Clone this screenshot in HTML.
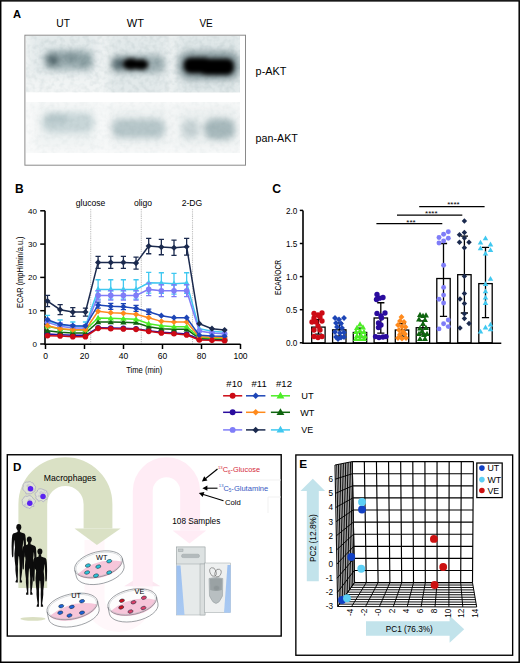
<!DOCTYPE html>
<html><head><meta charset="utf-8"><style>
html,body{margin:0;padding:0;background:#fff;}
svg{display:block;font-family:"Liberation Sans", sans-serif;}
</style></head><body>
<svg width="520" height="663" viewBox="0 0 520 663">
<rect width="520" height="663" fill="#fff"/>
<rect x="0.7" y="0.85" width="518.5" height="661.4" fill="none" stroke="#000" stroke-width="1.5"/>
<text x="12.9" y="17.7" font-size="11.2" font-weight="bold">A</text>
<g font-size="10" text-anchor="middle"><text x="63.1" y="26.9" textLength="13.6" lengthAdjust="spacingAndGlyphs">UT</text><text x="135.4" y="26.9" textLength="17.2" lengthAdjust="spacingAndGlyphs">WT</text><text x="206.1" y="26.9" textLength="13.4" lengthAdjust="spacingAndGlyphs">VE</text></g>
<rect x="24.9" y="35.2" width="220.6" height="130" fill="#fff" stroke="#8a8a8a" stroke-width="1"/>
<defs><filter id="b1" x="-50%" y="-50%" width="200%" height="200%"><feGaussianBlur stdDeviation="3"/></filter><filter id="b2" x="-50%" y="-50%" width="200%" height="200%"><feGaussianBlur stdDeviation="1.6"/></filter><filter id="b3" x="-50%" y="-50%" width="200%" height="200%"><feGaussianBlur stdDeviation="5"/></filter><filter id="b4" x="-50%" y="-50%" width="200%" height="200%"><feGaussianBlur stdDeviation="2"/></filter><filter id="nz" x="0" y="0" width="100%" height="100%"><feTurbulence type="fractalNoise" baseFrequency="0.2" numOctaves="2" seed="5"/><feColorMatrix type="matrix" values="0 0 0 0 0.30  0 0 0 0 0.40  0 0 0 0 0.42  0.9 0 0 0 -0.36"/></filter><clipPath id="c1"><rect x="26" y="36" width="214" height="56.5"/></clipPath><clipPath id="c2"><rect x="26" y="102" width="214" height="51"/></clipPath></defs>
<g clip-path="url(#c1)"><rect x="26" y="36" width="214" height="56.5" fill="#f1f4f4"/><g filter="url(#b3)"><rect x="30" y="32" width="68" height="44" fill="#e3eaeb"/><rect x="108" y="32" width="60" height="66" fill="#e2e9ea"/><rect x="176" y="32" width="66" height="66" fill="#dfe7e8"/></g><g filter="url(#b1)"><rect x="44" y="50" width="49" height="20" rx="8" fill="#a2b4b7"/><ellipse cx="53" cy="60" rx="7" ry="6" fill="#50656a"/><ellipse cx="71" cy="57.5" rx="8" ry="5" fill="#7b9094"/><ellipse cx="85" cy="62" rx="6" ry="6" fill="#869b9f"/><rect x="111" y="55" width="54" height="18" rx="7" fill="#9eafb2"/><ellipse cx="119" cy="64" rx="7" ry="6" fill="#50646a"/><rect x="178" y="51" width="62" height="29" rx="12" fill="#8c9ea2"/></g><g filter="url(#b4)"><ellipse cx="131" cy="64" rx="8.5" ry="6" fill="#000"/><ellipse cx="141" cy="64.5" rx="7.5" ry="5.6" fill="#000"/></g><g filter="url(#b4)"><rect x="183.5" y="57.5" width="28" height="16" rx="7" fill="#000"/><rect x="199" y="58.5" width="35" height="16.5" rx="7" fill="#000"/></g><rect x="26" y="36" width="214" height="56.5" filter="url(#nz)" opacity="0.4" style="mix-blend-mode:multiply"/></g>
<g clip-path="url(#c2)"><rect x="26" y="102" width="214" height="51" fill="#f9fafa"/><g filter="url(#b3)"><rect x="36" y="104" width="62" height="44" fill="#eff3f3"/><rect x="108" y="106" width="62" height="42" fill="#eef2f2"/><rect x="176" y="106" width="64" height="42" fill="#edf1f1"/></g><g filter="url(#b1)"><rect x="42" y="113" width="52" height="20" rx="9" fill="#c8d6d8"/><rect x="45" y="114" width="22" height="9" rx="4" fill="#b2c4c7"/><rect x="112" y="119" width="53" height="19" rx="8" fill="#b6c6c9"/><rect x="182" y="119.5" width="17" height="19" rx="7" fill="#c6d2d4"/><rect x="204" y="118.5" width="31" height="21" rx="9" fill="#a6b8bb"/></g><rect x="26" y="102" width="214" height="51" filter="url(#nz)" opacity="0.2" style="mix-blend-mode:multiply"/></g>
<g font-size="10.2"><text x="255.6" y="75" textLength="30.8" lengthAdjust="spacingAndGlyphs">p-AKT</text><text x="255.6" y="141.6" textLength="42.2" lengthAdjust="spacingAndGlyphs">pan-AKT</text></g>
<text x="15.1" y="192.7" font-size="12" font-weight="bold">B</text>
<line x1="90.7" y1="209" x2="90.7" y2="344" stroke="#c4c4c4" stroke-width="1.1" stroke-dasharray="1.3,0.9"/>
<line x1="141.3" y1="209" x2="141.3" y2="344" stroke="#c4c4c4" stroke-width="1.1" stroke-dasharray="1.3,0.9"/>
<line x1="192.5" y1="209" x2="192.5" y2="344" stroke="#c4c4c4" stroke-width="1.1" stroke-dasharray="1.3,0.9"/>
<g font-size="8.6" text-anchor="middle"><text x="90.5" y="206">glucose</text><text x="143" y="205.5">oligo</text><text x="192" y="205.5">2-DG</text></g>
<path d="M45,210.8 V344.3 H240.5" fill="none" stroke="#000" stroke-width="1.6"/>
<line x1="40.2" y1="344.0" x2="45" y2="344.0" stroke="#000" stroke-width="1.5"/>
<text x="37" y="346.9" font-size="8" text-anchor="end">0</text>
<line x1="40.2" y1="310.7" x2="45" y2="310.7" stroke="#000" stroke-width="1.5"/>
<text x="37" y="313.6" font-size="8" text-anchor="end">10</text>
<line x1="40.2" y1="277.4" x2="45" y2="277.4" stroke="#000" stroke-width="1.5"/>
<text x="37" y="280.3" font-size="8" text-anchor="end">20</text>
<line x1="40.2" y1="244.1" x2="45" y2="244.1" stroke="#000" stroke-width="1.5"/>
<text x="37" y="247.0" font-size="8" text-anchor="end">30</text>
<line x1="40.2" y1="210.8" x2="45" y2="210.8" stroke="#000" stroke-width="1.5"/>
<text x="37" y="213.7" font-size="8" text-anchor="end">40</text>
<line x1="45.5" y1="344" x2="45.5" y2="349" stroke="#000" stroke-width="1.5"/>
<text x="45.5" y="358.5" font-size="8.5" text-anchor="middle">0</text>
<line x1="84.5" y1="344" x2="84.5" y2="349" stroke="#000" stroke-width="1.5"/>
<text x="84.5" y="358.5" font-size="8.5" text-anchor="middle">20</text>
<line x1="123.5" y1="344" x2="123.5" y2="349" stroke="#000" stroke-width="1.5"/>
<text x="123.5" y="358.5" font-size="8.5" text-anchor="middle">40</text>
<line x1="162.5" y1="344" x2="162.5" y2="349" stroke="#000" stroke-width="1.5"/>
<text x="162.5" y="358.5" font-size="8.5" text-anchor="middle">60</text>
<line x1="201.5" y1="344" x2="201.5" y2="349" stroke="#000" stroke-width="1.5"/>
<text x="201.5" y="358.5" font-size="8.5" text-anchor="middle">80</text>
<line x1="240.5" y1="344" x2="240.5" y2="349" stroke="#000" stroke-width="1.5"/>
<text x="240.5" y="358.5" font-size="8.5" text-anchor="middle">100</text>
<text x="126.2" y="372.6" font-size="9.6" textLength="36" lengthAdjust="spacingAndGlyphs">Time (min)</text>
<text transform="translate(22.6,272.2) rotate(-90)" font-size="8.9" text-anchor="middle" textLength="71.5" lengthAdjust="spacingAndGlyphs">ECAR (mpH/min/a.u.)</text>
<g><polyline points="47.50,320.69 60.15,324.69 72.80,326.35 85.45,326.35 98.10,289.39 110.75,289.39 123.40,289.39 136.05,289.39 148.70,282.73 161.35,283.06 174.00,283.73 186.65,283.06 199.30,328.68 211.95,331.35 224.60,332.35" fill="none" stroke="#40c8f0" stroke-width="1.5"/><path d="M47.50,315.36V326.02M44.90,315.36h5.2M44.90,326.02h5.2" stroke="#40c8f0" stroke-width="1.3" fill="none"/><path d="M60.15,320.02V329.35M57.55,320.02h5.2M57.55,329.35h5.2" stroke="#40c8f0" stroke-width="1.3" fill="none"/><path d="M72.80,322.02V330.68M70.20,322.02h5.2M70.20,330.68h5.2" stroke="#40c8f0" stroke-width="1.3" fill="none"/><path d="M85.45,322.02V330.68M82.85,322.02h5.2M82.85,330.68h5.2" stroke="#40c8f0" stroke-width="1.3" fill="none"/><path d="M98.10,279.73V299.05M95.50,279.73h5.2M95.50,299.05h5.2" stroke="#40c8f0" stroke-width="1.3" fill="none"/><path d="M110.75,279.73V299.05M108.15,279.73h5.2M108.15,299.05h5.2" stroke="#40c8f0" stroke-width="1.3" fill="none"/><path d="M123.40,279.73V299.05M120.80,279.73h5.2M120.80,299.05h5.2" stroke="#40c8f0" stroke-width="1.3" fill="none"/><path d="M136.05,279.73V299.05M133.45,279.73h5.2M133.45,299.05h5.2" stroke="#40c8f0" stroke-width="1.3" fill="none"/><path d="M148.70,272.40V293.05M146.10,272.40h5.2M146.10,293.05h5.2" stroke="#40c8f0" stroke-width="1.3" fill="none"/><path d="M161.35,272.74V293.38M158.75,272.74h5.2M158.75,293.38h5.2" stroke="#40c8f0" stroke-width="1.3" fill="none"/><path d="M174.00,273.40V294.05M171.40,273.40h5.2M171.40,294.05h5.2" stroke="#40c8f0" stroke-width="1.3" fill="none"/><path d="M186.65,272.74V293.38M184.05,272.74h5.2M184.05,293.38h5.2" stroke="#40c8f0" stroke-width="1.3" fill="none"/><path d="M47.50,317.39L50.63,322.83L44.37,322.83Z" fill="#40c8f0"/><path d="M60.15,321.39L63.28,326.83L57.02,326.83Z" fill="#40c8f0"/><path d="M72.80,323.05L75.94,328.50L69.66,328.50Z" fill="#40c8f0"/><path d="M85.45,323.05L88.59,328.50L82.31,328.50Z" fill="#40c8f0"/><path d="M98.10,286.09L101.23,291.53L94.96,291.53Z" fill="#40c8f0"/><path d="M110.75,286.09L113.89,291.53L107.61,291.53Z" fill="#40c8f0"/><path d="M123.40,286.09L126.54,291.53L120.27,291.53Z" fill="#40c8f0"/><path d="M136.05,286.09L139.19,291.53L132.92,291.53Z" fill="#40c8f0"/><path d="M148.70,279.43L151.83,284.87L145.56,284.87Z" fill="#40c8f0"/><path d="M161.35,279.76L164.49,285.21L158.22,285.21Z" fill="#40c8f0"/><path d="M174.00,280.43L177.13,285.87L170.87,285.87Z" fill="#40c8f0"/><path d="M186.65,279.76L189.78,285.21L183.52,285.21Z" fill="#40c8f0"/><path d="M199.30,325.38L202.44,330.83L196.17,330.83Z" fill="#40c8f0"/><path d="M211.95,328.05L215.09,333.49L208.82,333.49Z" fill="#40c8f0"/><path d="M224.60,329.05L227.73,334.49L221.47,334.49Z" fill="#40c8f0"/></g>
<g><polyline points="47.50,322.36 60.15,326.35 72.80,328.02 85.45,328.02 98.10,295.38 110.75,295.38 123.40,295.38 136.05,295.38 148.70,289.39 161.35,290.72 174.00,290.72 186.65,290.72 199.30,331.01 211.95,333.01 224.60,333.68" fill="none" stroke="#7f7df8" stroke-width="1.5"/><path d="M47.50,319.02V325.69M44.90,319.02h5.2M44.90,325.69h5.2" stroke="#7f7df8" stroke-width="1.3" fill="none"/><path d="M60.15,323.02V329.68M57.55,323.02h5.2M57.55,329.68h5.2" stroke="#7f7df8" stroke-width="1.3" fill="none"/><path d="M72.80,324.69V331.35M70.20,324.69h5.2M70.20,331.35h5.2" stroke="#7f7df8" stroke-width="1.3" fill="none"/><path d="M85.45,324.69V331.35M82.85,324.69h5.2M82.85,331.35h5.2" stroke="#7f7df8" stroke-width="1.3" fill="none"/><path d="M98.10,290.72V300.04M95.50,290.72h5.2M95.50,300.04h5.2" stroke="#7f7df8" stroke-width="1.3" fill="none"/><path d="M110.75,290.72V300.04M108.15,290.72h5.2M108.15,300.04h5.2" stroke="#7f7df8" stroke-width="1.3" fill="none"/><path d="M123.40,290.72V300.04M120.80,290.72h5.2M120.80,300.04h5.2" stroke="#7f7df8" stroke-width="1.3" fill="none"/><path d="M136.05,290.72V300.04M133.45,290.72h5.2M133.45,300.04h5.2" stroke="#7f7df8" stroke-width="1.3" fill="none"/><path d="M148.70,283.06V295.72M146.10,283.06h5.2M146.10,295.72h5.2" stroke="#7f7df8" stroke-width="1.3" fill="none"/><path d="M161.35,284.73V296.71M158.75,284.73h5.2M158.75,296.71h5.2" stroke="#7f7df8" stroke-width="1.3" fill="none"/><path d="M174.00,284.73V296.71M171.40,284.73h5.2M171.40,296.71h5.2" stroke="#7f7df8" stroke-width="1.3" fill="none"/><path d="M186.65,284.73V296.71M184.05,284.73h5.2M184.05,296.71h5.2" stroke="#7f7df8" stroke-width="1.3" fill="none"/><circle cx="47.50" cy="322.36" r="2.80" fill="#7f7df8"/><circle cx="60.15" cy="326.35" r="2.80" fill="#7f7df8"/><circle cx="72.80" cy="328.02" r="2.80" fill="#7f7df8"/><circle cx="85.45" cy="328.02" r="2.80" fill="#7f7df8"/><circle cx="98.10" cy="295.38" r="2.80" fill="#7f7df8"/><circle cx="110.75" cy="295.38" r="2.80" fill="#7f7df8"/><circle cx="123.40" cy="295.38" r="2.80" fill="#7f7df8"/><circle cx="136.05" cy="295.38" r="2.80" fill="#7f7df8"/><circle cx="148.70" cy="289.39" r="2.80" fill="#7f7df8"/><circle cx="161.35" cy="290.72" r="2.80" fill="#7f7df8"/><circle cx="174.00" cy="290.72" r="2.80" fill="#7f7df8"/><circle cx="186.65" cy="290.72" r="2.80" fill="#7f7df8"/><circle cx="199.30" cy="331.01" r="2.80" fill="#7f7df8"/><circle cx="211.95" cy="333.01" r="2.80" fill="#7f7df8"/><circle cx="224.60" cy="333.68" r="2.80" fill="#7f7df8"/></g>
<g><polyline points="47.50,334.01 60.15,334.68 72.80,335.34 85.45,335.34 98.10,327.68 110.75,328.02 123.40,328.35 136.05,328.68 148.70,330.68 161.35,332.35 174.00,333.01 186.65,334.01 199.30,339.00 211.95,339.34 224.60,339.67" fill="none" stroke="#2a0c9e" stroke-width="1.5"/><circle cx="47.50" cy="334.01" r="2.80" fill="#2a0c9e"/><circle cx="60.15" cy="334.68" r="2.80" fill="#2a0c9e"/><circle cx="72.80" cy="335.34" r="2.80" fill="#2a0c9e"/><circle cx="85.45" cy="335.34" r="2.80" fill="#2a0c9e"/><circle cx="98.10" cy="327.68" r="2.80" fill="#2a0c9e"/><circle cx="110.75" cy="328.02" r="2.80" fill="#2a0c9e"/><circle cx="123.40" cy="328.35" r="2.80" fill="#2a0c9e"/><circle cx="136.05" cy="328.68" r="2.80" fill="#2a0c9e"/><circle cx="148.70" cy="330.68" r="2.80" fill="#2a0c9e"/><circle cx="161.35" cy="332.35" r="2.80" fill="#2a0c9e"/><circle cx="174.00" cy="333.01" r="2.80" fill="#2a0c9e"/><circle cx="186.65" cy="334.01" r="2.80" fill="#2a0c9e"/><circle cx="199.30" cy="339.00" r="2.80" fill="#2a0c9e"/><circle cx="211.95" cy="339.34" r="2.80" fill="#2a0c9e"/><circle cx="224.60" cy="339.67" r="2.80" fill="#2a0c9e"/></g>
<g><polyline points="47.50,330.68 60.15,332.35 72.80,333.01 85.45,333.01 98.10,322.02 110.75,322.02 123.40,322.36 136.05,322.69 148.70,326.68 161.35,328.68 174.00,329.35 186.65,329.35 199.30,338.34 211.95,338.67 224.60,339.00" fill="none" stroke="#0f650f" stroke-width="1.5"/><path d="M47.50,327.38L50.63,332.82L44.37,332.82Z" fill="#0f650f"/><path d="M60.15,329.05L63.28,334.49L57.02,334.49Z" fill="#0f650f"/><path d="M72.80,329.71L75.94,335.16L69.66,335.16Z" fill="#0f650f"/><path d="M85.45,329.71L88.59,335.16L82.31,335.16Z" fill="#0f650f"/><path d="M98.10,318.72L101.23,324.17L94.96,324.17Z" fill="#0f650f"/><path d="M110.75,318.72L113.89,324.17L107.61,324.17Z" fill="#0f650f"/><path d="M123.40,319.06L126.54,324.50L120.27,324.50Z" fill="#0f650f"/><path d="M136.05,319.39L139.19,324.83L132.92,324.83Z" fill="#0f650f"/><path d="M148.70,323.38L151.83,328.83L145.56,328.83Z" fill="#0f650f"/><path d="M161.35,325.38L164.49,330.83L158.22,330.83Z" fill="#0f650f"/><path d="M174.00,326.05L177.13,331.49L170.87,331.49Z" fill="#0f650f"/><path d="M186.65,326.05L189.78,331.49L183.52,331.49Z" fill="#0f650f"/><path d="M199.30,335.04L202.44,340.48L196.17,340.48Z" fill="#0f650f"/><path d="M211.95,335.37L215.09,340.82L208.82,340.82Z" fill="#0f650f"/><path d="M224.60,335.70L227.73,341.15L221.47,341.15Z" fill="#0f650f"/></g>
<g><polyline points="47.50,326.35 60.15,329.01 72.80,330.01 85.45,330.01 98.10,318.03 110.75,318.36 123.40,318.69 136.05,319.36 148.70,323.69 161.35,325.69 174.00,326.68 186.65,326.68 199.30,337.34 211.95,338.01 224.60,338.34" fill="none" stroke="#4ced26" stroke-width="1.5"/><path d="M47.50,323.05L50.63,328.50L44.37,328.50Z" fill="#4ced26"/><path d="M60.15,325.71L63.28,331.16L57.02,331.16Z" fill="#4ced26"/><path d="M72.80,326.71L75.94,332.16L69.66,332.16Z" fill="#4ced26"/><path d="M85.45,326.71L88.59,332.16L82.31,332.16Z" fill="#4ced26"/><path d="M98.10,314.73L101.23,320.17L94.96,320.17Z" fill="#4ced26"/><path d="M110.75,315.06L113.89,320.50L107.61,320.50Z" fill="#4ced26"/><path d="M123.40,315.39L126.54,320.84L120.27,320.84Z" fill="#4ced26"/><path d="M136.05,316.06L139.19,321.50L132.92,321.50Z" fill="#4ced26"/><path d="M148.70,320.39L151.83,325.83L145.56,325.83Z" fill="#4ced26"/><path d="M161.35,322.38L164.49,327.83L158.22,327.83Z" fill="#4ced26"/><path d="M174.00,323.38L177.13,328.83L170.87,328.83Z" fill="#4ced26"/><path d="M186.65,323.38L189.78,328.83L183.52,328.83Z" fill="#4ced26"/><path d="M199.30,334.04L202.44,339.48L196.17,339.48Z" fill="#4ced26"/><path d="M211.95,334.71L215.09,340.15L208.82,340.15Z" fill="#4ced26"/><path d="M224.60,335.04L227.73,340.48L221.47,340.48Z" fill="#4ced26"/></g>
<g><polyline points="47.50,325.69 60.15,328.68 72.80,329.68 85.45,329.68 98.10,311.37 110.75,312.70 123.40,313.36 136.05,314.36 148.70,317.69 161.35,321.36 174.00,322.02 186.65,322.02 199.30,336.67 211.95,337.34 224.60,337.67" fill="none" stroke="#ff8a1c" stroke-width="1.5"/><path d="M47.50,322.58L50.60,325.69L47.50,328.79L44.40,325.69Z" fill="#ff8a1c"/><path d="M60.15,325.58L63.25,328.68L60.15,331.78L57.05,328.68Z" fill="#ff8a1c"/><path d="M72.80,326.58L75.90,329.68L72.80,332.78L69.70,329.68Z" fill="#ff8a1c"/><path d="M85.45,326.58L88.55,329.68L85.45,332.78L82.35,329.68Z" fill="#ff8a1c"/><path d="M98.10,308.27L101.20,311.37L98.10,314.47L95.00,311.37Z" fill="#ff8a1c"/><path d="M110.75,309.60L113.85,312.70L110.75,315.80L107.65,312.70Z" fill="#ff8a1c"/><path d="M123.40,310.26L126.50,313.36L123.40,316.46L120.30,313.36Z" fill="#ff8a1c"/><path d="M136.05,311.26L139.15,314.36L136.05,317.46L132.95,314.36Z" fill="#ff8a1c"/><path d="M148.70,314.59L151.80,317.69L148.70,320.79L145.60,317.69Z" fill="#ff8a1c"/><path d="M161.35,318.26L164.45,321.36L161.35,324.46L158.25,321.36Z" fill="#ff8a1c"/><path d="M174.00,318.92L177.10,322.02L174.00,325.12L170.90,322.02Z" fill="#ff8a1c"/><path d="M186.65,318.92L189.75,322.02L186.65,325.12L183.55,322.02Z" fill="#ff8a1c"/><path d="M199.30,333.57L202.40,336.67L199.30,339.77L196.20,336.67Z" fill="#ff8a1c"/><path d="M211.95,334.24L215.05,337.34L211.95,340.44L208.85,337.34Z" fill="#ff8a1c"/><path d="M224.60,334.57L227.70,337.67L224.60,340.77L221.50,337.67Z" fill="#ff8a1c"/></g>
<g><polyline points="47.50,319.69 60.15,324.35 72.80,325.69 85.45,326.02 98.10,305.04 110.75,306.37 123.40,306.70 136.05,308.37 148.70,311.70 161.35,315.69 174.00,317.69 186.65,317.69 199.30,335.34 211.95,336.01 224.60,336.34" fill="none" stroke="#1d45b6" stroke-width="1.5"/><path d="M98.10,302.04V308.04M95.50,302.04h5.2M95.50,308.04h5.2" stroke="#1d45b6" stroke-width="1.3" fill="none"/><path d="M110.75,303.37V309.37M108.15,303.37h5.2M108.15,309.37h5.2" stroke="#1d45b6" stroke-width="1.3" fill="none"/><path d="M123.40,303.71V309.70M120.80,303.71h5.2M120.80,309.70h5.2" stroke="#1d45b6" stroke-width="1.3" fill="none"/><path d="M136.05,305.37V311.37M133.45,305.37h5.2M133.45,311.37h5.2" stroke="#1d45b6" stroke-width="1.3" fill="none"/><path d="M148.70,309.03V314.36M146.10,309.03h5.2M146.10,314.36h5.2" stroke="#1d45b6" stroke-width="1.3" fill="none"/><path d="M47.50,316.59L50.60,319.69L47.50,322.79L44.40,319.69Z" fill="#1d45b6"/><path d="M60.15,321.25L63.25,324.35L60.15,327.45L57.05,324.35Z" fill="#1d45b6"/><path d="M72.80,322.58L75.90,325.69L72.80,328.79L69.70,325.69Z" fill="#1d45b6"/><path d="M85.45,322.92L88.55,326.02L85.45,329.12L82.35,326.02Z" fill="#1d45b6"/><path d="M98.10,301.94L101.20,305.04L98.10,308.14L95.00,305.04Z" fill="#1d45b6"/><path d="M110.75,303.27L113.85,306.37L110.75,309.47L107.65,306.37Z" fill="#1d45b6"/><path d="M123.40,303.60L126.50,306.70L123.40,309.80L120.30,306.70Z" fill="#1d45b6"/><path d="M136.05,305.27L139.15,308.37L136.05,311.47L132.95,308.37Z" fill="#1d45b6"/><path d="M148.70,308.60L151.80,311.70L148.70,314.80L145.60,311.70Z" fill="#1d45b6"/><path d="M161.35,312.59L164.45,315.69L161.35,318.80L158.25,315.69Z" fill="#1d45b6"/><path d="M174.00,314.59L177.10,317.69L174.00,320.79L170.90,317.69Z" fill="#1d45b6"/><path d="M186.65,314.59L189.75,317.69L186.65,320.79L183.55,317.69Z" fill="#1d45b6"/><path d="M199.30,332.24L202.40,335.34L199.30,338.44L196.20,335.34Z" fill="#1d45b6"/><path d="M211.95,332.91L215.05,336.01L211.95,339.11L208.85,336.01Z" fill="#1d45b6"/><path d="M224.60,333.24L227.70,336.34L224.60,339.44L221.50,336.34Z" fill="#1d45b6"/></g>
<g><polyline points="47.50,335.68 60.15,336.01 72.80,336.67 85.45,336.67 98.10,328.35 110.75,328.68 123.40,329.01 136.05,329.35 148.70,331.35 161.35,333.01 174.00,333.68 186.65,335.01 199.30,340.00 211.95,340.34 224.60,340.67" fill="none" stroke="#cc0a14" stroke-width="1.5"/><circle cx="47.50" cy="335.68" r="2.80" fill="#cc0a14"/><circle cx="60.15" cy="336.01" r="2.80" fill="#cc0a14"/><circle cx="72.80" cy="336.67" r="2.80" fill="#cc0a14"/><circle cx="85.45" cy="336.67" r="2.80" fill="#cc0a14"/><circle cx="98.10" cy="328.35" r="2.80" fill="#cc0a14"/><circle cx="110.75" cy="328.68" r="2.80" fill="#cc0a14"/><circle cx="123.40" cy="329.01" r="2.80" fill="#cc0a14"/><circle cx="136.05" cy="329.35" r="2.80" fill="#cc0a14"/><circle cx="148.70" cy="331.35" r="2.80" fill="#cc0a14"/><circle cx="161.35" cy="333.01" r="2.80" fill="#cc0a14"/><circle cx="174.00" cy="333.68" r="2.80" fill="#cc0a14"/><circle cx="186.65" cy="335.01" r="2.80" fill="#cc0a14"/><circle cx="199.30" cy="340.00" r="2.80" fill="#cc0a14"/><circle cx="211.95" cy="340.34" r="2.80" fill="#cc0a14"/><circle cx="224.60" cy="340.67" r="2.80" fill="#cc0a14"/></g>
<g><polyline points="47.50,301.04 60.15,309.70 72.80,312.03 85.45,312.03 98.10,262.41 110.75,262.41 123.40,262.41 136.05,263.08 148.70,246.10 161.35,247.10 174.00,247.76 186.65,246.76 199.30,323.69 211.95,328.68 224.60,330.01" fill="none" stroke="#1b2a4e" stroke-width="1.5"/><path d="M47.50,295.38V306.70M44.90,295.38h5.2M44.90,306.70h5.2" stroke="#1b2a4e" stroke-width="1.3" fill="none"/><path d="M60.15,304.71V314.70M57.55,304.71h5.2M57.55,314.70h5.2" stroke="#1b2a4e" stroke-width="1.3" fill="none"/><path d="M72.80,307.70V316.36M70.20,307.70h5.2M70.20,316.36h5.2" stroke="#1b2a4e" stroke-width="1.3" fill="none"/><path d="M85.45,308.04V316.03M82.85,308.04h5.2M82.85,316.03h5.2" stroke="#1b2a4e" stroke-width="1.3" fill="none"/><path d="M98.10,256.42V268.41M95.50,256.42h5.2M95.50,268.41h5.2" stroke="#1b2a4e" stroke-width="1.3" fill="none"/><path d="M110.75,256.42V268.41M108.15,256.42h5.2M108.15,268.41h5.2" stroke="#1b2a4e" stroke-width="1.3" fill="none"/><path d="M123.40,256.42V268.41M120.80,256.42h5.2M120.80,268.41h5.2" stroke="#1b2a4e" stroke-width="1.3" fill="none"/><path d="M136.05,257.09V269.07M133.45,257.09h5.2M133.45,269.07h5.2" stroke="#1b2a4e" stroke-width="1.3" fill="none"/><path d="M148.70,238.44V253.76M146.10,238.44h5.2M146.10,253.76h5.2" stroke="#1b2a4e" stroke-width="1.3" fill="none"/><path d="M161.35,239.44V254.76M158.75,239.44h5.2M158.75,254.76h5.2" stroke="#1b2a4e" stroke-width="1.3" fill="none"/><path d="M174.00,240.10V255.42M171.40,240.10h5.2M171.40,255.42h5.2" stroke="#1b2a4e" stroke-width="1.3" fill="none"/><path d="M186.65,238.44V255.09M184.05,238.44h5.2M184.05,255.09h5.2" stroke="#1b2a4e" stroke-width="1.3" fill="none"/><path d="M47.50,297.94L50.60,301.04L47.50,304.14L44.40,301.04Z" fill="#1b2a4e"/><path d="M60.15,306.60L63.25,309.70L60.15,312.80L57.05,309.70Z" fill="#1b2a4e"/><path d="M72.80,308.93L75.90,312.03L72.80,315.13L69.70,312.03Z" fill="#1b2a4e"/><path d="M85.45,308.93L88.55,312.03L85.45,315.13L82.35,312.03Z" fill="#1b2a4e"/><path d="M98.10,259.31L101.20,262.41L98.10,265.51L95.00,262.41Z" fill="#1b2a4e"/><path d="M110.75,259.31L113.85,262.41L110.75,265.51L107.65,262.41Z" fill="#1b2a4e"/><path d="M123.40,259.31L126.50,262.41L123.40,265.51L120.30,262.41Z" fill="#1b2a4e"/><path d="M136.05,259.98L139.15,263.08L136.05,266.18L132.95,263.08Z" fill="#1b2a4e"/><path d="M148.70,243.00L151.80,246.10L148.70,249.20L145.60,246.10Z" fill="#1b2a4e"/><path d="M161.35,244.00L164.45,247.10L161.35,250.20L158.25,247.10Z" fill="#1b2a4e"/><path d="M174.00,244.66L177.10,247.76L174.00,250.86L170.90,247.76Z" fill="#1b2a4e"/><path d="M186.65,243.66L189.75,246.76L186.65,249.86L183.55,246.76Z" fill="#1b2a4e"/><path d="M199.30,320.59L202.40,323.69L199.30,326.79L196.20,323.69Z" fill="#1b2a4e"/><path d="M211.95,325.58L215.05,328.68L211.95,331.78L208.85,328.68Z" fill="#1b2a4e"/><path d="M224.60,326.91L227.70,330.01L224.60,333.11L221.50,330.01Z" fill="#1b2a4e"/></g>
<text x="272.3" y="193.3" font-size="12.2" font-weight="bold">C</text>
<path d="M303,210.4 V343.3 H501.3" fill="none" stroke="#000" stroke-width="1.6"/>
<line x1="299.8" y1="342.8" x2="303" y2="342.8" stroke="#000" stroke-width="1.5"/>
<text x="297.4" y="346.2" font-size="9.3" text-anchor="end" textLength="11.4" lengthAdjust="spacingAndGlyphs">0.0</text>
<line x1="299.8" y1="309.7" x2="303" y2="309.7" stroke="#000" stroke-width="1.5"/>
<text x="297.4" y="313.1" font-size="9.3" text-anchor="end" textLength="11.4" lengthAdjust="spacingAndGlyphs">0.5</text>
<line x1="299.8" y1="276.6" x2="303" y2="276.6" stroke="#000" stroke-width="1.5"/>
<text x="297.4" y="280.0" font-size="9.3" text-anchor="end" textLength="11.4" lengthAdjust="spacingAndGlyphs">1.0</text>
<line x1="299.8" y1="243.5" x2="303" y2="243.5" stroke="#000" stroke-width="1.5"/>
<text x="297.4" y="246.9" font-size="9.3" text-anchor="end" textLength="11.4" lengthAdjust="spacingAndGlyphs">1.5</text>
<line x1="299.8" y1="210.4" x2="303" y2="210.4" stroke="#000" stroke-width="1.5"/>
<text x="297.4" y="213.8" font-size="9.3" text-anchor="end" textLength="11.4" lengthAdjust="spacingAndGlyphs">2.0</text>
<text transform="translate(280.6,277.5) rotate(-90)" font-size="9.2" text-anchor="middle" textLength="35" lengthAdjust="spacingAndGlyphs">ECAR/OCR</text>
<rect x="311.70" y="327.11" width="13.4" height="15.69" fill="none" stroke="#000" stroke-width="1.3"/>
<path d="M318.40,319.63V334.19M314.80,319.63h7.2M314.80,334.19h7.2" stroke="#000" stroke-width="1.3" fill="none"/>
<circle cx="314.00" cy="313.50" r="2.66" fill="#cc0a14"/><circle cx="318.00" cy="315.00" r="2.66" fill="#cc0a14"/><circle cx="322.00" cy="313.00" r="2.66" fill="#cc0a14"/><circle cx="314.00" cy="318.00" r="2.66" fill="#cc0a14"/><circle cx="320.00" cy="317.00" r="2.66" fill="#cc0a14"/><circle cx="312.00" cy="322.00" r="2.66" fill="#cc0a14"/><circle cx="316.00" cy="322.00" r="2.66" fill="#cc0a14"/><circle cx="322.00" cy="321.00" r="2.66" fill="#cc0a14"/><circle cx="318.00" cy="326.00" r="2.66" fill="#cc0a14"/><circle cx="314.00" cy="330.00" r="2.66" fill="#cc0a14"/><circle cx="320.00" cy="330.00" r="2.66" fill="#cc0a14"/><circle cx="314.00" cy="336.50" r="2.66" fill="#cc0a14"/><circle cx="318.00" cy="337.50" r="2.66" fill="#cc0a14"/><circle cx="322.00" cy="336.50" r="2.66" fill="#cc0a14"/>
<rect x="332.60" y="329.82" width="13.4" height="12.98" fill="none" stroke="#000" stroke-width="1.3"/>
<path d="M339.30,322.94V336.18M335.70,322.94h7.2M335.70,336.18h7.2" stroke="#000" stroke-width="1.3" fill="none"/>
<path d="M335.00,315.06L337.94,318.00L335.00,320.94L332.06,318.00Z" fill="#1d45b6"/><path d="M339.00,316.56L341.94,319.50L339.00,322.44L336.06,319.50Z" fill="#1d45b6"/><path d="M344.00,315.06L346.94,318.00L344.00,320.94L341.06,318.00Z" fill="#1d45b6"/><path d="M336.00,320.06L338.94,323.00L336.00,325.94L333.06,323.00Z" fill="#1d45b6"/><path d="M341.00,320.56L343.94,323.50L341.00,326.44L338.06,323.50Z" fill="#1d45b6"/><path d="M337.00,324.06L339.94,327.00L337.00,329.94L334.06,327.00Z" fill="#1d45b6"/><path d="M342.00,325.06L344.94,328.00L342.00,330.94L339.06,328.00Z" fill="#1d45b6"/><path d="M335.00,329.06L337.94,332.00L335.00,334.94L332.06,332.00Z" fill="#1d45b6"/><path d="M340.00,330.06L342.94,333.00L340.00,335.94L337.06,333.00Z" fill="#1d45b6"/><path d="M344.00,329.56L346.94,332.50L344.00,335.44L341.06,332.50Z" fill="#1d45b6"/><path d="M336.00,334.06L338.94,337.00L336.00,339.94L333.06,337.00Z" fill="#1d45b6"/><path d="M341.00,334.56L343.94,337.50L341.00,340.44L338.06,337.50Z" fill="#1d45b6"/><path d="M338.00,336.06L340.94,339.00L338.00,341.94L335.06,339.00Z" fill="#1d45b6"/><path d="M344.00,334.06L346.94,337.00L344.00,339.94L341.06,337.00Z" fill="#1d45b6"/>
<rect x="353.30" y="332.47" width="13.4" height="10.33" fill="none" stroke="#000" stroke-width="1.3"/>
<path d="M360.00,328.24V336.84M356.40,328.24h7.2M356.40,336.84h7.2" stroke="#000" stroke-width="1.3" fill="none"/>
<path d="M360.00,321.37L362.98,326.54L357.02,326.54Z" fill="#4ced26"/><path d="M357.00,324.87L359.98,330.04L354.02,330.04Z" fill="#4ced26"/><path d="M363.00,324.37L365.98,329.54L360.02,329.54Z" fill="#4ced26"/><path d="M356.00,328.87L358.98,334.04L353.02,334.04Z" fill="#4ced26"/><path d="M360.00,327.87L362.98,333.04L357.02,333.04Z" fill="#4ced26"/><path d="M364.00,328.87L366.98,334.04L361.02,334.04Z" fill="#4ced26"/><path d="M357.00,332.87L359.98,338.04L354.02,338.04Z" fill="#4ced26"/><path d="M361.00,332.37L363.98,337.54L358.02,337.54Z" fill="#4ced26"/><path d="M365.00,333.37L367.98,338.54L362.02,338.54Z" fill="#4ced26"/><path d="M356.00,335.87L358.98,341.04L353.02,341.04Z" fill="#4ced26"/><path d="M360.00,335.87L362.98,341.04L357.02,341.04Z" fill="#4ced26"/><path d="M364.00,335.87L366.98,341.04L361.02,341.04Z" fill="#4ced26"/>
<rect x="374.10" y="317.98" width="13.4" height="24.82" fill="none" stroke="#000" stroke-width="1.3"/>
<path d="M380.80,302.75V333.20M377.20,302.75h7.2M377.20,333.20h7.2" stroke="#000" stroke-width="1.3" fill="none"/>
<circle cx="377.00" cy="294.50" r="2.66" fill="#2a0c9e"/><circle cx="379.50" cy="298.20" r="2.66" fill="#2a0c9e"/><circle cx="383.00" cy="297.50" r="2.66" fill="#2a0c9e"/><circle cx="376.50" cy="299.50" r="2.66" fill="#2a0c9e"/><circle cx="377.00" cy="313.40" r="2.66" fill="#2a0c9e"/><circle cx="381.00" cy="316.00" r="2.66" fill="#2a0c9e"/><circle cx="385.00" cy="313.00" r="2.66" fill="#2a0c9e"/><circle cx="381.50" cy="318.00" r="2.66" fill="#2a0c9e"/><circle cx="378.50" cy="323.00" r="2.66" fill="#2a0c9e"/><circle cx="381.00" cy="325.00" r="2.66" fill="#2a0c9e"/><circle cx="378.50" cy="327.50" r="2.66" fill="#2a0c9e"/><circle cx="375.50" cy="336.60" r="2.66" fill="#2a0c9e"/><circle cx="379.00" cy="337.50" r="2.66" fill="#2a0c9e"/><circle cx="383.00" cy="337.00" r="2.66" fill="#2a0c9e"/><circle cx="386.00" cy="336.60" r="2.66" fill="#2a0c9e"/>
<rect x="395.30" y="330.02" width="13.4" height="12.78" fill="none" stroke="#000" stroke-width="1.3"/>
<path d="M402.00,323.60V336.18M398.40,323.60h7.2M398.40,336.18h7.2" stroke="#000" stroke-width="1.3" fill="none"/>
<path d="M401.50,314.06L404.44,317.00L401.50,319.94L398.56,317.00Z" fill="#ff8a1c"/><path d="M400.00,318.06L402.94,321.00L400.00,323.94L397.06,321.00Z" fill="#ff8a1c"/><path d="M404.00,319.06L406.94,322.00L404.00,324.94L401.06,322.00Z" fill="#ff8a1c"/><path d="M398.00,322.06L400.94,325.00L398.00,327.94L395.06,325.00Z" fill="#ff8a1c"/><path d="M402.00,323.56L404.94,326.50L402.00,329.44L399.06,326.50Z" fill="#ff8a1c"/><path d="M405.50,324.06L408.44,327.00L405.50,329.94L402.56,327.00Z" fill="#ff8a1c"/><path d="M399.00,327.06L401.94,330.00L399.00,332.94L396.06,330.00Z" fill="#ff8a1c"/><path d="M403.00,328.56L405.94,331.50L403.00,334.44L400.06,331.50Z" fill="#ff8a1c"/><path d="M400.00,331.56L402.94,334.50L400.00,337.44L397.06,334.50Z" fill="#ff8a1c"/><path d="M405.00,331.06L407.94,334.00L405.00,336.94L402.06,334.00Z" fill="#ff8a1c"/><path d="M398.00,335.06L400.94,338.00L398.00,340.94L395.06,338.00Z" fill="#ff8a1c"/><path d="M402.00,335.56L404.94,338.50L402.00,341.44L399.06,338.50Z" fill="#ff8a1c"/><path d="M406.00,335.06L408.94,338.00L406.00,340.94L403.06,338.00Z" fill="#ff8a1c"/>
<rect x="416.20" y="327.71" width="13.4" height="15.09" fill="none" stroke="#000" stroke-width="1.3"/>
<path d="M422.90,320.95V334.19M419.30,320.95h7.2M419.30,334.19h7.2" stroke="#000" stroke-width="1.3" fill="none"/>
<path d="M420.00,311.87L422.98,317.04L417.02,317.04Z" fill="#0f650f"/><path d="M423.00,312.87L425.98,318.04L420.02,318.04Z" fill="#0f650f"/><path d="M426.00,312.37L428.98,317.54L423.02,317.54Z" fill="#0f650f"/><path d="M419.00,316.37L421.98,321.54L416.02,321.54Z" fill="#0f650f"/><path d="M425.00,316.87L427.98,322.04L422.02,322.04Z" fill="#0f650f"/><path d="M423.00,320.87L425.98,326.04L420.02,326.04Z" fill="#0f650f"/><path d="M420.00,325.37L422.98,330.54L417.02,330.54Z" fill="#0f650f"/><path d="M426.00,324.87L428.98,330.04L423.02,330.04Z" fill="#0f650f"/><path d="M422.00,328.37L424.98,333.54L419.02,333.54Z" fill="#0f650f"/><path d="M419.00,330.87L421.98,336.04L416.02,336.04Z" fill="#0f650f"/><path d="M424.00,331.87L426.98,337.04L421.02,337.04Z" fill="#0f650f"/><path d="M427.00,330.87L429.98,336.04L424.02,336.04Z" fill="#0f650f"/><path d="M420.00,335.87L422.98,341.04L417.02,341.04Z" fill="#0f650f"/><path d="M425.00,335.87L427.98,341.04L422.02,341.04Z" fill="#0f650f"/>
<rect x="436.80" y="278.52" width="13.4" height="64.28" fill="none" stroke="#000" stroke-width="1.3"/>
<path d="M443.50,243.50V316.32M439.90,243.50h7.2M439.90,316.32h7.2" stroke="#000" stroke-width="1.3" fill="none"/>
<circle cx="448.30" cy="231.70" r="2.46" fill="#7f7df8"/><circle cx="443.60" cy="234.20" r="2.46" fill="#7f7df8"/><circle cx="439.00" cy="237.50" r="2.46" fill="#7f7df8"/><circle cx="448.30" cy="238.30" r="2.46" fill="#7f7df8"/><circle cx="439.00" cy="243.00" r="2.46" fill="#7f7df8"/><circle cx="443.60" cy="241.00" r="2.46" fill="#7f7df8"/><circle cx="443.60" cy="265.30" r="2.46" fill="#7f7df8"/><circle cx="443.60" cy="287.40" r="2.46" fill="#7f7df8"/><circle cx="443.60" cy="295.10" r="2.46" fill="#7f7df8"/><circle cx="439.00" cy="299.20" r="2.46" fill="#7f7df8"/><circle cx="443.60" cy="303.00" r="2.46" fill="#7f7df8"/><circle cx="448.30" cy="320.00" r="2.46" fill="#7f7df8"/><circle cx="443.60" cy="323.80" r="2.46" fill="#7f7df8"/><circle cx="448.30" cy="326.60" r="2.46" fill="#7f7df8"/><circle cx="439.00" cy="328.90" r="2.46" fill="#7f7df8"/>
<rect x="457.70" y="274.68" width="13.4" height="68.12" fill="none" stroke="#000" stroke-width="1.3"/>
<path d="M464.40,236.22V313.01M460.80,236.22h7.2M460.80,313.01h7.2" stroke="#000" stroke-width="1.3" fill="none"/>
<path d="M464.40,218.27L467.13,221.00L464.40,223.73L461.67,221.00Z" fill="#1b2a4e"/><path d="M464.40,229.87L467.13,232.60L464.40,235.33L461.67,232.60Z" fill="#1b2a4e"/><path d="M459.50,231.97L462.23,234.70L459.50,237.43L456.77,234.70Z" fill="#1b2a4e"/><path d="M464.40,235.27L467.13,238.00L464.40,240.73L461.67,238.00Z" fill="#1b2a4e"/><path d="M459.50,239.57L462.23,242.30L459.50,245.03L456.77,242.30Z" fill="#1b2a4e"/><path d="M469.00,239.57L471.73,242.30L469.00,245.03L466.27,242.30Z" fill="#1b2a4e"/><path d="M464.40,244.97L467.13,247.70L464.40,250.43L461.67,247.70Z" fill="#1b2a4e"/><path d="M464.40,273.47L467.13,276.20L464.40,278.93L461.67,276.20Z" fill="#1b2a4e"/><path d="M464.40,290.87L467.13,293.60L464.40,296.33L461.67,293.60Z" fill="#1b2a4e"/><path d="M460.00,296.17L462.73,298.90L460.00,301.63L457.27,298.90Z" fill="#1b2a4e"/><path d="M464.40,300.67L467.13,303.40L464.40,306.13L461.67,303.40Z" fill="#1b2a4e"/><path d="M464.40,311.07L467.13,313.80L464.40,316.53L461.67,313.80Z" fill="#1b2a4e"/><path d="M464.40,315.77L467.13,318.50L464.40,321.23L461.67,318.50Z" fill="#1b2a4e"/><path d="M469.00,320.67L471.73,323.40L469.00,326.13L466.27,323.40Z" fill="#1b2a4e"/><path d="M460.00,325.17L462.73,327.90L460.00,330.63L457.27,327.90Z" fill="#1b2a4e"/>
<rect x="478.80" y="283.62" width="13.4" height="59.18" fill="none" stroke="#000" stroke-width="1.3"/>
<path d="M485.50,247.47V317.64M481.90,247.47h7.2M481.90,317.64h7.2" stroke="#000" stroke-width="1.3" fill="none"/>
<path d="M485.50,235.40L488.26,240.19L482.74,240.19Z" fill="#40c8f0"/><path d="M480.50,239.70L483.26,244.49L477.74,244.49Z" fill="#40c8f0"/><path d="M490.50,241.60L493.26,246.39L487.74,246.39Z" fill="#40c8f0"/><path d="M480.50,245.40L483.26,250.19L477.74,250.19Z" fill="#40c8f0"/><path d="M490.50,247.30L493.26,252.09L487.74,252.09Z" fill="#40c8f0"/><path d="M485.50,250.70L488.26,255.49L482.74,255.49Z" fill="#40c8f0"/><path d="M490.50,276.00L493.26,280.79L487.74,280.79Z" fill="#40c8f0"/><path d="M485.50,281.30L488.26,286.09L482.74,286.09Z" fill="#40c8f0"/><path d="M485.50,288.40L488.26,293.19L482.74,293.19Z" fill="#40c8f0"/><path d="M485.50,294.80L488.26,299.59L482.74,299.59Z" fill="#40c8f0"/><path d="M485.50,300.10L488.26,304.89L482.74,304.89Z" fill="#40c8f0"/><path d="M490.50,321.80L493.26,326.59L487.74,326.59Z" fill="#40c8f0"/><path d="M485.50,324.60L488.26,329.39L482.74,329.39Z" fill="#40c8f0"/><path d="M490.50,326.50L493.26,331.29L487.74,331.29Z" fill="#40c8f0"/><path d="M480.50,328.80L483.26,333.59L477.74,333.59Z" fill="#40c8f0"/>
<g stroke="#000" stroke-width="1.2"><line x1="376.4" y1="223.6" x2="442.3" y2="223.6"/><line x1="397" y1="215.1" x2="462.3" y2="215.1"/><line x1="419.2" y1="206.7" x2="484.6" y2="206.7"/></g>
<g font-size="8" text-anchor="middle"><text x="411" y="224.6">***</text><text x="431.3" y="215.6">****</text><text x="453.4" y="207.4">****</text></g>
<g font-size="9.5" text-anchor="middle"><text x="234.3" y="386.8">#10</text><text x="259.1" y="386.8">#11</text><text x="284" y="386.8">#12</text></g>
<g font-size="9.9"><text x="301.2" y="399.1" textLength="12.4" lengthAdjust="spacingAndGlyphs">UT</text><text x="300.2" y="416.1" textLength="14.2" lengthAdjust="spacingAndGlyphs">WT</text><text x="301.2" y="433" textLength="11.9" lengthAdjust="spacingAndGlyphs">VE</text></g>
<line x1="223.1" y1="395.8" x2="242.2" y2="395.8" stroke="#cc0a14" stroke-width="1.5"/>
<circle cx="232.65" cy="395.80" r="2.94" fill="#cc0a14"/>
<line x1="246" y1="395.8" x2="265.4" y2="395.8" stroke="#1d45b6" stroke-width="1.5"/>
<path d="M255.70,392.55L258.95,395.80L255.70,399.06L252.44,395.80Z" fill="#1d45b6"/>
<line x1="270.9" y1="395.8" x2="290" y2="395.8" stroke="#4ced26" stroke-width="1.5"/>
<path d="M280.45,391.68L284.37,398.48L276.53,398.48Z" fill="#4ced26"/>
<line x1="223.1" y1="412.3" x2="242.2" y2="412.3" stroke="#2a0c9e" stroke-width="1.5"/>
<circle cx="232.65" cy="412.30" r="2.94" fill="#2a0c9e"/>
<line x1="246" y1="412.3" x2="265.4" y2="412.3" stroke="#ff8a1c" stroke-width="1.5"/>
<path d="M255.70,409.05L258.95,412.30L255.70,415.56L252.44,412.30Z" fill="#ff8a1c"/>
<line x1="270.9" y1="412.3" x2="290" y2="412.3" stroke="#0f650f" stroke-width="1.5"/>
<path d="M280.45,408.18L284.37,414.98L276.53,414.98Z" fill="#0f650f"/>
<line x1="223.1" y1="429.9" x2="242.2" y2="429.9" stroke="#7f7df8" stroke-width="1.5"/>
<circle cx="232.65" cy="429.90" r="2.94" fill="#7f7df8"/>
<line x1="246" y1="429.9" x2="265.4" y2="429.9" stroke="#1b2a4e" stroke-width="1.5"/>
<path d="M255.70,426.64L258.95,429.90L255.70,433.15L252.44,429.90Z" fill="#1b2a4e"/>
<line x1="270.9" y1="429.9" x2="290" y2="429.9" stroke="#40c8f0" stroke-width="1.5"/>
<path d="M280.45,425.77L284.37,432.58L276.53,432.58Z" fill="#40c8f0"/>
<path d="M94.5,540 V598 A24.1,24.1 0 0 0 142.7,598 V586" fill="none" stroke="#fff7fa" stroke-width="20"/>
<path d="M124,586.2 L160.4,586.2 L142.2,575.3 Z" fill="#fce8f1"/>
<path d="M142.75,586 V491 A23.7,23.7 0 0 1 190.15,491 V530.6" fill="none" stroke="#ffecf5" stroke-width="19.9"/>
<path d="M172.6,530.4 L206.3,530.4 L189.4,543.4 Z" fill="#ffecf5"/>
<defs><linearGradient id="olg" x1="0" y1="0" x2="0" y2="1"><stop offset="0" stop-color="#dae1c5"/><stop offset="0.85" stop-color="#dae1c5"/><stop offset="1" stop-color="#dae1c5" stop-opacity="0.9"/></linearGradient></defs>
<path d="M32.8,588 V504.2 A32.6,32.6 0 0 1 98.0,504.2 V528.6" fill="none" stroke="#dae1c5" stroke-width="28.8"/>
<path d="M74.5,528.4 L120.6,528.4 L96.9,545 Z" fill="#dae1c5"/>
<ellipse cx="32.9" cy="618.8" rx="12.5" ry="1.9" fill="#dadfc2"/>
<rect x="7.3" y="454.75" width="273.9" height="181.3" fill="none" stroke="#000" stroke-width="1.4"/>
<text x="13" y="471.2" font-size="11.6" font-weight="bold">D</text>
<text x="43.8" y="480.8" font-size="8.4" textLength="52.4" lengthAdjust="spacingAndGlyphs">Macrophages</text>
<path d="M35.59,487.70 L35.12,489.07 L35.05,490.57 L34.19,491.76 L32.91,492.48 L31.79,493.29 L30.47,493.72 L29.10,493.81 L27.71,493.80 L26.11,493.92 L25.60,492.09 L24.52,491.36 L23.64,490.33 L22.79,489.14 L22.77,487.70 L23.25,486.36 L23.08,484.80 L23.89,483.55 L24.90,482.43 L26.39,482.08 L27.83,482.15 L29.10,481.73 L30.46,481.72 L31.52,482.68 L32.95,482.87 L33.63,484.09 L34.09,485.30 L35.44,486.25Z" fill="#e4e6e2" fill-opacity="0.55" stroke="#aaa7c2" stroke-width="0.75" stroke-linejoin="round"/><circle cx="28.68" cy="490.10" r="1.22" fill="none" stroke="#b9b6cc" stroke-width="0.45"/><circle cx="30.08" cy="487.70" r="1.33" fill="none" stroke="#b9b6cc" stroke-width="0.45"/><circle cx="28.80" cy="486.15" r="1.60" fill="none" stroke="#b9b6cc" stroke-width="0.45"/><circle cx="32.57" cy="490.08" r="1.37" fill="none" stroke="#b9b6cc" stroke-width="0.45"/><circle cx="27.81" cy="485.81" r="1.03" fill="none" stroke="#b9b6cc" stroke-width="0.45"/><circle cx="30.50" cy="488.80" r="2.75" fill="#5a22f0"/>
<path d="M47.63,495.00 L47.86,496.43 L46.99,497.59 L47.05,499.34 L45.32,499.66 L44.49,500.99 L43.15,501.79 L41.60,500.50 L40.32,500.61 L38.54,501.34 L37.82,499.74 L36.38,499.16 L35.81,497.79 L36.15,496.24 L35.34,495.00 L34.89,493.47 L36.35,492.47 L37.22,491.51 L37.64,490.04 L38.71,489.00 L40.17,488.75 L41.60,488.91 L42.89,489.35 L44.04,489.94 L45.35,490.29 L46.65,490.97 L46.75,492.52 L48.06,493.53Z" fill="#e4e6e2" fill-opacity="0.55" stroke="#aaa7c2" stroke-width="0.75" stroke-linejoin="round"/><circle cx="41.23" cy="492.83" r="1.39" fill="none" stroke="#b9b6cc" stroke-width="0.45"/><circle cx="39.02" cy="496.01" r="0.89" fill="none" stroke="#b9b6cc" stroke-width="0.45"/><circle cx="41.05" cy="492.99" r="1.02" fill="none" stroke="#b9b6cc" stroke-width="0.45"/><circle cx="44.90" cy="497.12" r="1.04" fill="none" stroke="#b9b6cc" stroke-width="0.45"/><circle cx="44.29" cy="492.97" r="1.12" fill="none" stroke="#b9b6cc" stroke-width="0.45"/><circle cx="43.00" cy="496.40" r="2.75" fill="#5a22f0"/>
<path d="M35.38,502.00 L34.51,503.40 L33.46,504.44 L33.98,506.45 L31.99,506.50 L30.92,507.23 L29.93,508.70 L28.40,507.89 L27.10,507.71 L25.78,507.44 L24.90,506.38 L23.55,505.87 L22.78,504.71 L22.33,503.38 L22.45,502.00 L22.07,500.55 L22.41,499.11 L23.65,498.21 L24.26,496.81 L25.56,496.11 L27.13,496.42 L28.40,495.87 L29.87,495.58 L31.21,496.16 L32.30,497.11 L32.88,498.43 L34.15,499.23 L35.30,500.42Z" fill="#e4e6e2" fill-opacity="0.55" stroke="#aaa7c2" stroke-width="0.75" stroke-linejoin="round"/><circle cx="26.28" cy="505.15" r="1.51" fill="none" stroke="#b9b6cc" stroke-width="0.45"/><circle cx="29.12" cy="501.45" r="0.88" fill="none" stroke="#b9b6cc" stroke-width="0.45"/><circle cx="25.17" cy="505.24" r="0.99" fill="none" stroke="#b9b6cc" stroke-width="0.45"/><circle cx="29.83" cy="500.30" r="1.46" fill="none" stroke="#b9b6cc" stroke-width="0.45"/><circle cx="29.08" cy="500.55" r="0.94" fill="none" stroke="#b9b6cc" stroke-width="0.45"/><circle cx="29.80" cy="503.30" r="2.75" fill="#5a22f0"/>
<g transform="translate(18.8,524.2)" fill="#0c0c0c"><ellipse cx="0" cy="3.0" rx="2.5" ry="3.1"/><path d="M1.20,5.60 L1.30,7.80 L3.20,8.60 L5.60,9.40 L6.50,10.80 L6.90,14.00 L7.10,18.00 L7.20,22.00 L7.10,26.00 L7.00,30.00 L6.70,32.50 L6.00,33.20 L5.40,32.00 L5.30,27.00 L5.10,22.00 L4.80,17.00 L4.50,15.50 L4.20,19.00 L3.80,23.00 L4.10,26.00 L4.40,29.50 L4.30,33.00 L4.00,37.00 L3.40,42.00 L3.40,46.00 L3.00,50.00 L2.30,55.00 L3.40,57.60 L3.00,58.20 L0.90,58.20 L1.00,55.00 L0.90,50.00 L0.80,46.00 L0.90,42.00 L0.60,36.00 L0.30,32.50 L0.00,31.80 L0.00,31.80 L-0.30,32.50 L-0.60,36.00 L-0.90,42.00 L-0.80,46.00 L-0.90,50.00 L-1.00,55.00 L-0.90,58.20 L-3.00,58.20 L-3.40,57.60 L-2.30,55.00 L-3.00,50.00 L-3.40,46.00 L-3.40,42.00 L-4.00,37.00 L-4.30,33.00 L-4.40,29.50 L-4.10,26.00 L-3.80,23.00 L-4.20,19.00 L-4.50,15.50 L-4.80,17.00 L-5.10,22.00 L-5.30,27.00 L-5.40,32.00 L-6.00,33.20 L-6.70,32.50 L-7.00,30.00 L-7.10,26.00 L-7.20,22.00 L-7.10,18.00 L-6.90,14.00 L-6.50,10.80 L-5.60,9.40 L-3.20,8.60 L-1.30,7.80 L-1.20,5.60Z"/></g>
<g transform="translate(29.3,536.5)" fill="#0c0c0c"><ellipse cx="0" cy="3.0" rx="2.5" ry="3.1"/><path d="M1.20,5.60 L1.30,7.80 L3.20,8.60 L5.60,9.40 L6.50,10.80 L6.90,14.00 L7.10,18.00 L7.20,22.00 L7.10,26.00 L7.00,30.00 L6.70,32.50 L6.00,33.20 L5.40,32.00 L5.30,27.00 L5.10,22.00 L4.80,17.00 L4.50,15.50 L4.20,19.00 L3.80,23.00 L4.10,26.00 L4.40,29.50 L4.30,33.00 L4.00,37.00 L3.40,42.00 L3.40,46.00 L3.00,50.00 L2.30,55.00 L3.40,57.60 L3.00,58.20 L0.90,58.20 L1.00,55.00 L0.90,50.00 L0.80,46.00 L0.90,42.00 L0.60,36.00 L0.30,32.50 L0.00,31.80 L0.00,31.80 L-0.30,32.50 L-0.60,36.00 L-0.90,42.00 L-0.80,46.00 L-0.90,50.00 L-1.00,55.00 L-0.90,58.20 L-3.00,58.20 L-3.40,57.60 L-2.30,55.00 L-3.00,50.00 L-3.40,46.00 L-3.40,42.00 L-4.00,37.00 L-4.30,33.00 L-4.40,29.50 L-4.10,26.00 L-3.80,23.00 L-4.20,19.00 L-4.50,15.50 L-4.80,17.00 L-5.10,22.00 L-5.30,27.00 L-5.40,32.00 L-6.00,33.20 L-6.70,32.50 L-7.00,30.00 L-7.10,26.00 L-7.20,22.00 L-7.10,18.00 L-6.90,14.00 L-6.50,10.80 L-5.60,9.40 L-3.20,8.60 L-1.30,7.80 L-1.20,5.60Z"/></g>
<g transform="translate(39.9,548.6)" fill="#0c0c0c"><ellipse cx="0" cy="3.0" rx="2.5" ry="3.1"/><path d="M1.20,5.60 L1.30,7.80 L3.20,8.60 L5.60,9.40 L6.50,10.80 L6.90,14.00 L7.10,18.00 L7.20,22.00 L7.10,26.00 L7.00,30.00 L6.70,32.50 L6.00,33.20 L5.40,32.00 L5.30,27.00 L5.10,22.00 L4.80,17.00 L4.50,15.50 L4.20,19.00 L3.80,23.00 L4.10,26.00 L4.40,29.50 L4.30,33.00 L4.00,37.00 L3.40,42.00 L3.40,46.00 L3.00,50.00 L2.30,55.00 L3.40,57.60 L3.00,58.20 L0.90,58.20 L1.00,55.00 L0.90,50.00 L0.80,46.00 L0.90,42.00 L0.60,36.00 L0.30,32.50 L0.00,31.80 L0.00,31.80 L-0.30,32.50 L-0.60,36.00 L-0.90,42.00 L-0.80,46.00 L-0.90,50.00 L-1.00,55.00 L-0.90,58.20 L-3.00,58.20 L-3.40,57.60 L-2.30,55.00 L-3.00,50.00 L-3.40,46.00 L-3.40,42.00 L-4.00,37.00 L-4.30,33.00 L-4.40,29.50 L-4.10,26.00 L-3.80,23.00 L-4.20,19.00 L-4.50,15.50 L-4.80,17.00 L-5.10,22.00 L-5.30,27.00 L-5.40,32.00 L-6.00,33.20 L-6.70,32.50 L-7.00,30.00 L-7.10,26.00 L-7.20,22.00 L-7.10,18.00 L-6.90,14.00 L-6.50,10.80 L-5.60,9.40 L-3.20,8.60 L-1.30,7.80 L-1.20,5.60Z"/></g>
<g transform="translate(98.55,564.3) rotate(-14)"><path d="M-24.5,0 A24.5,12.5 0 0 1 24.5,0 V7 A24.5,12.5 0 0 1 -24.5,7 Z" fill="#fdfdfd" stroke="#6a7076" stroke-width="0.6"/><path d="M-23.0,4.6 Q0,-7.8 23.3,3 A23.6,11.7 0 0 1 -23.0,4.6 Z" fill="#f6c6da"/><path d="M-24.5,0 A24.5,12.5 0 0 0 24.5,0" fill="none" stroke="#6a7076" stroke-width="0.6"/><ellipse cx="0" cy="0.3" rx="23.2" ry="11.4" fill="none" stroke="#b8bcc0" stroke-width="0.45"/></g><ellipse cx="87.9" cy="565.5" rx="2.6" ry="1.65" transform="rotate(-15 87.9 565.5)" fill="#2cc6da" stroke="#102535" stroke-width="0.5"/><ellipse cx="98.3" cy="566.6" rx="2.6" ry="1.65" transform="rotate(-15 98.3 566.6)" fill="#2cc6da" stroke="#102535" stroke-width="0.5"/><ellipse cx="109.2" cy="561.2" rx="2.6" ry="1.65" transform="rotate(-15 109.2 561.2)" fill="#2cc6da" stroke="#102535" stroke-width="0.5"/><ellipse cx="87.1" cy="572.5" rx="2.6" ry="1.65" transform="rotate(-15 87.1 572.5)" fill="#2cc6da" stroke="#102535" stroke-width="0.5"/><ellipse cx="96" cy="575.6" rx="2.6" ry="1.65" transform="rotate(-15 96 575.6)" fill="#2cc6da" stroke="#102535" stroke-width="0.5"/><ellipse cx="109.2" cy="572.5" rx="2.6" ry="1.65" transform="rotate(-15 109.2 572.5)" fill="#2cc6da" stroke="#102535" stroke-width="0.5"/><text x="96" y="559.8" font-size="7.3">WT</text>
<g transform="translate(72.3,606.4) rotate(-12)"><path d="M-25.8,0 A25.8,12.5 0 0 1 25.8,0 V7.5 A25.8,12.5 0 0 1 -25.8,7.5 Z" fill="#fdfdfd" stroke="#6a7076" stroke-width="0.6"/><path d="M-24.3,4.6 Q0,-7.8 24.6,3 A24.900000000000002,11.7 0 0 1 -24.3,4.6 Z" fill="#f6c6da"/><path d="M-25.8,0 A25.8,12.5 0 0 0 25.8,0" fill="none" stroke="#6a7076" stroke-width="0.6"/><ellipse cx="0" cy="0.3" rx="24.5" ry="11.4" fill="none" stroke="#b8bcc0" stroke-width="0.45"/></g><ellipse cx="61.2" cy="606.2" rx="2.6" ry="1.65" transform="rotate(-15 61.2 606.2)" fill="#1e64d8" stroke="#102535" stroke-width="0.5"/><ellipse cx="71.8" cy="606.9" rx="2.6" ry="1.65" transform="rotate(-15 71.8 606.9)" fill="#1e64d8" stroke="#102535" stroke-width="0.5"/><ellipse cx="82" cy="601.2" rx="2.6" ry="1.65" transform="rotate(-15 82 601.2)" fill="#1e64d8" stroke="#102535" stroke-width="0.5"/><ellipse cx="60.3" cy="612.7" rx="2.6" ry="1.65" transform="rotate(-15 60.3 612.7)" fill="#1e64d8" stroke="#102535" stroke-width="0.5"/><ellipse cx="69.5" cy="615.5" rx="2.6" ry="1.65" transform="rotate(-15 69.5 615.5)" fill="#1e64d8" stroke="#102535" stroke-width="0.5"/><ellipse cx="82" cy="612.7" rx="2.6" ry="1.65" transform="rotate(-15 82 612.7)" fill="#1e64d8" stroke="#102535" stroke-width="0.5"/><text x="71.2" y="598.4" font-size="7.3">UT</text>
<g transform="translate(132.25,601.9) rotate(-12)"><path d="M-24.8,0 A24.8,12.5 0 0 1 24.8,0 V7 A24.8,12.5 0 0 1 -24.8,7 Z" fill="#fdfdfd" stroke="#6a7076" stroke-width="0.6"/><path d="M-23.3,4.6 Q0,-7.8 23.6,3 A23.900000000000002,11.7 0 0 1 -23.3,4.6 Z" fill="#f6c6da"/><path d="M-24.8,0 A24.8,12.5 0 0 0 24.8,0" fill="none" stroke="#6a7076" stroke-width="0.6"/><ellipse cx="0" cy="0.3" rx="23.5" ry="11.4" fill="none" stroke="#b8bcc0" stroke-width="0.45"/></g><ellipse cx="121.9" cy="600.7" rx="2.6" ry="1.65" transform="rotate(-15 121.9 600.7)" fill="#d01020" stroke="#102535" stroke-width="0.5"/><ellipse cx="133.5" cy="602.3" rx="2.6" ry="1.65" transform="rotate(-15 133.5 602.3)" fill="#e0406a" stroke="#102535" stroke-width="0.5"/><ellipse cx="143.9" cy="597.7" rx="2.6" ry="1.65" transform="rotate(-15 143.9 597.7)" fill="#e0406a" stroke="#102535" stroke-width="0.5"/><ellipse cx="121.2" cy="607.4" rx="2.6" ry="1.65" transform="rotate(-15 121.2 607.4)" fill="#d01020" stroke="#102535" stroke-width="0.5"/><ellipse cx="130.5" cy="611.5" rx="2.6" ry="1.65" transform="rotate(-15 130.5 611.5)" fill="#e0406a" stroke="#102535" stroke-width="0.5"/><ellipse cx="143.4" cy="608" rx="2.6" ry="1.65" transform="rotate(-15 143.4 608)" fill="#e0406a" stroke="#102535" stroke-width="0.5"/><text x="134.6" y="594.4" font-size="7.3">VE</text>
<text x="218" y="472" font-size="7.4" fill="#d42a3a"><tspan font-size="4.2" dy="-3.2">13</tspan><tspan dy="3.2">C</tspan><tspan font-size="4.6" dy="1.6">6</tspan><tspan dy="-1.6" textLength="29.4" lengthAdjust="spacingAndGlyphs">-Glucose</tspan></text>
<text x="218.8" y="490.5" font-size="7.4" fill="#3558bf"><tspan font-size="4.2" dy="-3.2">13</tspan><tspan dy="3.2">C</tspan><tspan font-size="4.6" dy="1.6">5</tspan><tspan dy="-1.6" textLength="36.9" lengthAdjust="spacingAndGlyphs">-Glutamine</tspan></text>
<text x="225" y="504.6" font-size="7.4" textLength="15.8" lengthAdjust="spacingAndGlyphs">Cold</text>
<line x1="217.5" y1="469" x2="205.02" y2="479.00" stroke="#000" stroke-width="1.1"/><path d="M201.9,481.5 L204.18,476.34 L207.43,480.40 Z" fill="#000"/>
<line x1="217.5" y1="488.2" x2="206.40" y2="488.20" stroke="#000" stroke-width="1.1"/><path d="M202.4,488.2 L207.40,485.60 L207.40,490.80 Z" fill="#000"/>
<line x1="223.5" y1="500.8" x2="202.61" y2="494.20" stroke="#000" stroke-width="1.1"/><path d="M198.8,493 L204.35,492.03 L202.78,496.98 Z" fill="#000"/>
<text x="172.3" y="524" font-size="9.6" textLength="48" lengthAdjust="spacingAndGlyphs">108 Samples</text>
<g stroke="#eeeeee" stroke-width="0.8" fill="none"><line x1="230" y1="480" x2="281" y2="480"/><path d="M281,497 H268 V513"/></g>
<defs><linearGradient id="msb" x1="0" y1="0" x2="0" y2="1"><stop offset="0" stop-color="#9cc0f0"/><stop offset="1" stop-color="#a9c9f2"/></linearGradient><linearGradient id="msb2" x1="0" y1="0" x2="1" y2="0"><stop offset="0" stop-color="#7aa8ec"/><stop offset="1" stop-color="#e4e8e8"/></linearGradient></defs>
<g stroke="#9aa2a4" stroke-width="0.5"><rect x="176.5" y="547" width="28.5" height="68" fill="#e6eaea"/><rect x="176.5" y="547" width="28.5" height="17" fill="#dde2e2"/><rect x="181.5" y="554.2" width="18" height="3.4" rx="1.7" fill="#b3babc"/><rect x="178.5" y="549" width="4.5" height="2.5" fill="#c4cacc"/><path d="M176.5,565.5 H180.5 L184.5,615 H176.5 Z" fill="url(#msb)" stroke="none"/><rect x="200" y="564" width="5" height="51" fill="#dadede"/><rect x="204.6" y="563" width="26" height="49.7" fill="#eef0f0"/><path d="M227.5,565 H230.6 V612.7 H224 Z" fill="url(#msb)" stroke="none"/><path d="M209,578.5 Q216,576.5 222.8,578.5 L222.5,596 Q216,611 209.5,596 Z" fill="#b8bfc1" stroke="#8e9698"/><path d="M210,579 Q216,577.5 222,579 L221.8,590 Q216,592 210.2,590 Z" fill="#9aa2a4" stroke="none"/><ellipse cx="216.5" cy="588" rx="3" ry="2.5" fill="#8e9698"/></g>
<g fill="none" stroke="#555" stroke-width="0.5"><ellipse cx="213" cy="572" rx="3" ry="4.5" transform="rotate(-20 213 572)"/><ellipse cx="218" cy="573" rx="3" ry="4" transform="rotate(20 218 573)"/></g>
<rect x="295.85" y="454.95" width="216.8" height="200.3" fill="none" stroke="#000" stroke-width="1.35"/>
<text x="299.2" y="467.7" font-size="11.8" font-weight="bold">E</text>
<path d="M306.8,581.3 V491 H300.5 L312.8,478.7 L325.1,491 H318.8 V581.3 Z" fill="#c2e3eb"/>
<path d="M366,621.3 H449.6 V615.7 L464.2,629.2 L449.6,642.7 V635.8 H366 Z" fill="#c2e3eb"/>
<text transform="translate(316.4,538.1) rotate(-90)" font-size="9.2" text-anchor="middle" textLength="47.8" lengthAdjust="spacingAndGlyphs">PC2 (12.8%)</text>
<text x="385.8" y="632" font-size="9" textLength="47" lengthAdjust="spacingAndGlyphs">PC1 (76.3%)</text>
<path d="M352.20,461.60L354.50,582.60M364.32,461.60L366.30,582.60M376.44,461.60L378.10,582.60M388.56,461.60L389.90,582.60M400.68,461.60L401.70,582.60M412.80,461.60L413.50,582.60M424.92,461.60L425.30,582.60M437.04,461.60L437.10,582.60M449.16,461.60L448.90,582.60M461.28,461.60L460.70,582.60M473.40,461.60L472.50,582.60M352.20,461.60H473.40M352.43,473.70H473.31M352.66,485.80H473.22M352.89,497.90H473.13M353.12,510.00H473.04M353.35,522.10H472.95M353.58,534.20H472.86M353.81,546.30H472.77M354.04,558.40H472.68M354.27,570.50H472.59M354.50,582.60H472.50" stroke="#000" stroke-width="1.15" fill="none"/>
<path d="M352.20,461.60L354.50,582.60M350.48,461.94L352.82,584.99M348.76,462.28L351.14,587.38M347.04,462.62L349.46,589.77M345.32,462.96L347.78,592.16M343.60,463.30L346.10,594.55M341.88,463.64L344.42,596.94M340.16,463.98L342.74,599.33M338.44,464.32L341.06,601.72M336.72,464.66L339.38,604.11M335.00,465.00L337.70,606.50" stroke="#111" stroke-width="1.15" fill="none"/>
<path d="M352.20,461.60L335.00,465.00M352.43,473.70L335.27,479.15M352.66,485.80L335.54,493.30M352.89,497.90L335.81,507.45M353.12,510.00L336.08,521.60M353.35,522.10L336.35,535.75M353.58,534.20L336.62,549.90M353.81,546.30L336.89,564.05M354.04,558.40L337.16,578.20M354.27,570.50L337.43,592.35M354.50,582.60L337.70,606.50M354.50,582.60L337.70,606.50M366.30,582.60L351.60,606.55M378.10,582.60L365.50,606.60M389.90,582.60L379.40,606.65M401.70,582.60L393.30,606.70M413.50,582.60L407.20,606.75M425.30,582.60L421.10,606.80M437.10,582.60L435.00,606.85M448.90,582.60L448.90,606.90M460.70,582.60L462.80,606.95M472.50,582.60L476.70,607.00M354.50,582.60L472.50,582.60M352.82,584.99L472.92,585.04M351.14,587.38L473.34,587.48M349.46,589.77L473.76,589.92M347.78,592.16L474.18,592.36M346.10,594.55L474.60,594.80M344.42,596.94L475.02,597.24M342.74,599.33L475.44,599.68M341.06,601.72L475.86,602.12M339.38,604.11L476.28,604.56M337.70,606.50L476.70,607.00" stroke="#000" stroke-width="0.95" fill="none"/>
<text x="333" y="482.0" font-size="8.2" text-anchor="end">6</text>
<text x="333" y="496.2" font-size="8.2" text-anchor="end">5</text>
<text x="333" y="510.3" font-size="8.2" text-anchor="end">4</text>
<text x="333" y="524.5" font-size="8.2" text-anchor="end">3</text>
<text x="333" y="538.6" font-size="8.2" text-anchor="end">2</text>
<text x="333" y="552.8" font-size="8.2" text-anchor="end">1</text>
<text x="333" y="566.9" font-size="8.2" text-anchor="end">0</text>
<text x="333" y="581.1" font-size="8.2" text-anchor="end">-1</text>
<text x="333" y="595.2" font-size="8.2" text-anchor="end">-2</text>
<text x="333" y="609.4" font-size="8.2" text-anchor="end">-3</text>
<text transform="translate(353.20,608.6) rotate(-90)" font-size="8.2" text-anchor="end">-4</text>
<text transform="translate(367.10,608.6) rotate(-90)" font-size="8.2" text-anchor="end">-2</text>
<text transform="translate(381.00,608.6) rotate(-90)" font-size="8.2" text-anchor="end">-0</text>
<text transform="translate(394.90,608.6) rotate(-90)" font-size="8.2" text-anchor="end">2</text>
<text transform="translate(408.80,608.6) rotate(-90)" font-size="8.2" text-anchor="end">4</text>
<text transform="translate(422.70,608.6) rotate(-90)" font-size="8.2" text-anchor="end">6</text>
<text transform="translate(436.60,608.6) rotate(-90)" font-size="8.2" text-anchor="end">8</text>
<text transform="translate(450.50,608.6) rotate(-90)" font-size="8.2" text-anchor="end">10</text>
<text transform="translate(464.40,608.6) rotate(-90)" font-size="8.2" text-anchor="end">12</text>
<text transform="translate(478.30,608.6) rotate(-90)" font-size="8.2" text-anchor="end">14</text>
<circle cx="362" cy="509.5" r="3.9" fill="#1140c4"/>
<circle cx="362" cy="502" r="3.9" fill="#5ccff5"/>
<circle cx="351.25" cy="557" r="3.9" fill="#1140c4"/>
<circle cx="361.25" cy="568.75" r="3.9" fill="#5ccff5"/>
<circle cx="342" cy="600" r="3.9" fill="#1140c4"/>
<circle cx="347" cy="598.25" r="3.9" fill="#5ccff5"/>
<circle cx="433.9" cy="538.9" r="3.9" fill="#cc1111"/>
<circle cx="443.2" cy="567" r="3.9" fill="#cc1111"/>
<circle cx="434.6" cy="585" r="3.9" fill="#cc1111"/>
<rect x="476.8" y="463" width="25.4" height="34.6" fill="#fff" stroke="#000" stroke-width="1.25"/>
<circle cx="481.9" cy="468.1" r="2.8" fill="#1140c4"/><text x="487.5" y="471.3" font-size="8.8">UT</text>
<circle cx="481.9" cy="479.6" r="2.8" fill="#5ccff5"/><text x="487.5" y="482.8" font-size="8.8">WT</text>
<circle cx="481.9" cy="490.5" r="2.8" fill="#cc1111"/><text x="487.5" y="493.7" font-size="8.8">VE</text>
</svg>
</body></html>
